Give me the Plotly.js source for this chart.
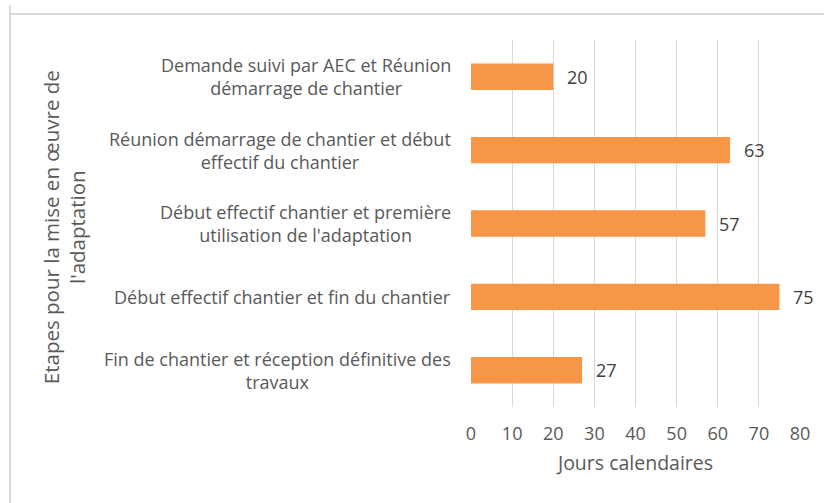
<!DOCTYPE html>
<html>
<head>
<meta charset="utf-8">
<script src="https://cdn.plot.ly/plotly-3.0.1.min.js"></script>
<style>html,body{margin:0;padding:0;background:#fff;}#chart{width:824px;height:503px;}</style>
</head>
<body>
<div id="chart"></div>
<script>
const categories = [
  "Demande suivi par AEC et Réunion<br>démarrage de chantier",
  "Réunion démarrage de chantier et début<br>effectif du chantier",
  "Début effectif chantier et première<br>utilisation de l'adaptation",
  "Début effectif chantier et fin du chantier",
  "Fin de chantier et réception définitive des<br>travaux"
];
const values = [20, 63, 57, 75, 27];
const xTickVals = [0, 10, 20, 30, 40, 50, 60, 70, 80];
const xTitle = "Jours calendaires";
const yTitle = "Etapes pour la mise en œuvre de<br>l'adaptation";

const font = "'Open Sans', 'Liberation Sans', sans-serif";
const ids = categories.map((c, i) => "c" + i);

const annotations = [];
ids.forEach((id, i) => {
  annotations.push({
    x: 0, xref: "paper", y: id, yref: "y",
    text: categories[i], showarrow: false,
    xanchor: "right", align: "center", xshift: -18,
    font: {family: font, size: 18, color: "#595959"}
  });
  annotations.push({
    x: values[i], xref: "x", y: id, yref: "y",
    text: String(values[i]), showarrow: false,
    xanchor: "left", xshift: 12,
    font: {family: font, size: 18, color: "#404040"}
  });
});
annotations.push({
  x: 0, xref: "paper", y: 0.49, yref: "paper",
  text: yTitle, showarrow: false, textangle: -90,
  xanchor: "center", yanchor: "middle", xshift: -407,
  align: "center",
  font: {family: font, size: 20.5, color: "#595959"}
});

const data = [{
  type: "bar", orientation: "h",
  x: values, y: ids,
  marker: {color: "#F79646"},
  width: 0.36,
  hoverinfo: "none"
}];

const layout = {
  width: 824, height: 503,
  margin: {l: 471, r: 24, t: 40, b: 96},
  paper_bgcolor: "#ffffff", plot_bgcolor: "#ffffff",
  showlegend: false,
  font: {family: font, color: "#595959"},
  xaxis: {
    range: [0, 80], tickvals: xTickVals, ticktext: xTickVals.map(String),
    showgrid: true, gridcolor: "#d9d9d9", gridwidth: 1,
    zeroline: false, showline: false,
    ticks: "", tickfont: {family: font, size: 18, color: "#595959"},
    ticklabelstandoff: 14,
    title: {text: xTitle, font: {family: font, size: 19.5, color: "#595959"}, standoff: 12}
  },
  yaxis: {
    autorange: "reversed", showticklabels: false, showgrid: false,
    zeroline: false, showline: false, ticks: "", fixedrange: true
  },
  annotations: annotations,
  shapes: [
    {type: "line", xref: "paper", yref: "paper", x0: -1.401, x1: -1.401, y0: 1.095, y1: -0.3,
     line: {color: "#d9d9d9", width: 2}},
    {type: "line", xref: "paper", yref: "paper", x0: -1.404, x1: 1.2, y0: 1.0708, y1: 1.0708,
     line: {color: "#d9d9d9", width: 2}}
  ]
};

Plotly.newPlot("chart", data, layout, {displayModeBar: false, staticPlot: true});
</script>
</body>
</html>
